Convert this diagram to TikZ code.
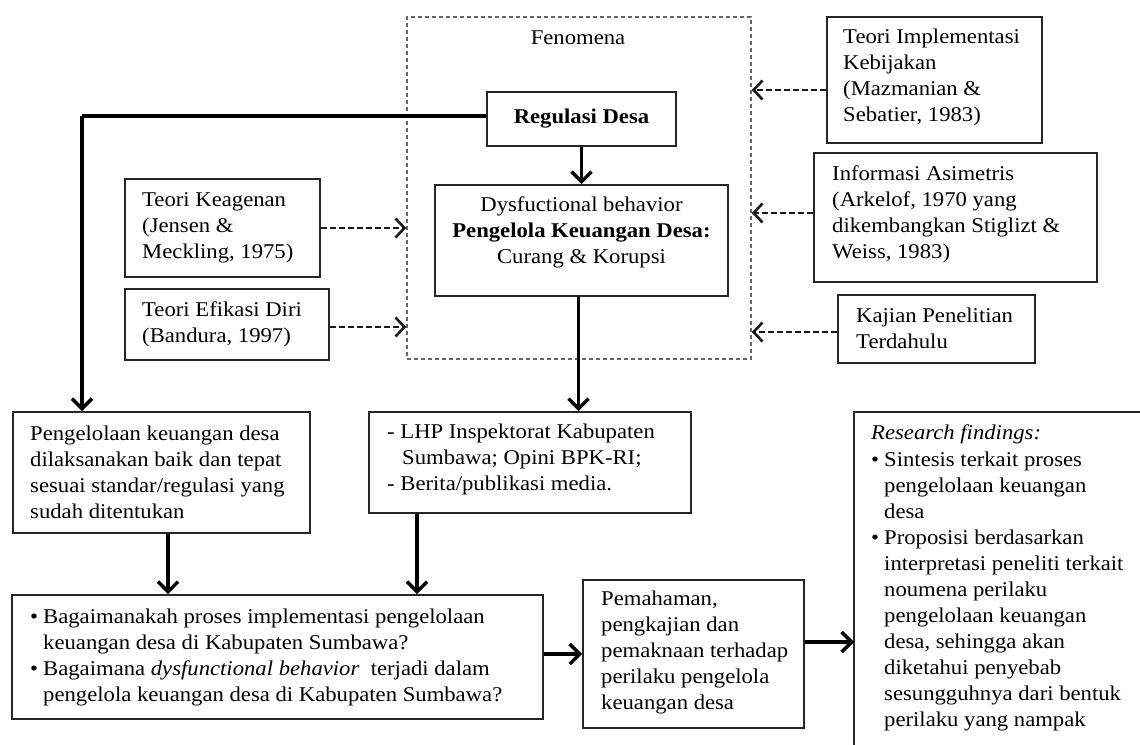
\documentclass[tikz,border=0pt]{standalone}
\usepackage{fontspec}
\setmainfont[FakeStretch=1.08]{Liberation Serif}
\usetikzlibrary{arrows.meta}
\begin{document}
\begin{tikzpicture}[x=1pt,y=-1pt,
  boxn/.style={draw=black!85, line width=1.9pt, inner sep=0pt},
  fenbox/.style={draw=black!60, line width=1.4pt, dash pattern=on 4pt off 3pt, inner sep=0pt},
  txt/.style={font=\fontsize{21}{26}\selectfont, align=left, inner sep=0pt, text=black},
  ctxt/.style={font=\fontsize{21}{26}\selectfont, align=center, inner sep=0pt, text=black},
  solidarr/.style={line width=3.4pt, draw=black, -{Straight Barb[length=10pt,width=20pt]}},
  plainline/.style={line width=3.4pt, draw=black},
  dasharr/.style={line width=2.6pt, draw=black!90, dash pattern=on 6pt off 3pt, -{Straight Barb[length=9pt,width=19pt]}}
]
\useasboundingbox (0,0) rectangle (1140,744);
\fill[white] (0,0) rectangle (1140,744);
\clip (0,0) rectangle (1140,744);

% Fenomena dashed box
\node[fenbox, minimum width=344pt, minimum height=342pt] (fen) at (579,188) {};
\node[ctxt] (fent) at (578,38) {Fenomena};

% Regulasi Desa
\node[boxn, ctxt, minimum width=189pt, minimum height=54pt] (reg) at (581.5,119) {\textbf{Regulasi Desa}};

% Dysfunctional
\node[boxn, minimum width=293pt, minimum height=111pt] (dys) at (581.5,240.5) {};
\node[ctxt] (dyst) at (581.5,232.5) {Dysfuctional behavior\\\textbf{Pengelola Keuangan Desa:}\\Curang \& Korupsi};

% Left theories
\node[boxn, minimum width=195pt, minimum height=98pt] (kea) at (222.5,228) {};
\node[txt, anchor=west] (keat) at (142,228) {Teori Keagenan\\(Jensen \&\\Meckling, 1975)};
\node[boxn, minimum width=204pt, minimum height=71pt] (efi) at (227,324.5) {};
\node[txt, anchor=west] (efit) at (142,324.5) {Teori Efikasi Diri\\(Bandura, 1997)};

% Right theories
\node[boxn, minimum width=215pt, minimum height=126pt] (imp) at (934.5,80) {};
\node[txt, anchor=west] (impt) at (843,77) {Teori Implementasi\\Kebijakan\\(Mazmanian \&\\Sebatier, 1983)};
\node[boxn, minimum width=283pt, minimum height=129pt] (inf) at (955.5,217.5) {};
\node[txt, anchor=west] (inft) at (832,214) {Informasi Asimetris\\(Arkelof, 1970 yang\\dikembangkan Stiglizt \&\\Weiss, 1983)};
\node[boxn, minimum width=197pt, minimum height=68pt] (kaj) at (936.5,329) {};
\node[txt, anchor=west] (kajt) at (856,328) {Kajian Penelitian\\Terdahulu};

% Middle row
\node[boxn, minimum width=297pt, minimum height=121pt] (pen) at (161.5,472.5) {};
\node[txt, anchor=west] (pent) at (30,472) {Pengelolaan keuangan desa\\dilaksanakan baik dan tepat\\sesuai standar/regulasi yang\\sudah ditentukan};
\node[boxn, minimum width=322pt, minimum height=101pt] (lhp) at (530,462.5) {};
\node[txt, anchor=west] (lhpt) at (387,459) {- LHP Inspektorat Kabupaten\\\hspace*{15pt}Sumbawa; Opini BPK-RI;\\- Berita/publikasi media.};

% Bottom row
\node[boxn, minimum width=531pt, minimum height=124pt] (bag) at (277.5,657) {};
\node[txt, anchor=west] (bagt) at (30,657) {\makebox[13pt][l]{•}Bagaimanakah proses implementasi pengelolaan\\\hspace*{13pt}keuangan desa di Kabupaten Sumbawa?\\\makebox[13pt][l]{•}Bagaimana \textit{dysfunctional behavior}\ \ terjadi dalam\\\hspace*{13pt}pengelola keuangan desa di Kabupaten Sumbawa?};
\node[boxn, minimum width=221pt, minimum height=148pt] (pem) at (693.5,654) {};
\node[txt, anchor=west] (pemt) at (601,652) {Pemahaman,\\pengkajian dan\\pemaknaan terhadap\\perilaku pengelola\\keuangan desa};

% Research findings (box runs off the page)
\coordinate (resL) at (854,412);
\draw[draw=black!85, line width=1.9pt] (854,790) -- (resL) -- (1160,412);
\node[txt, anchor=west] (res) at (871,578) {\textit{Research findings:}\\[1pt]
\makebox[13pt][l]{•}Sintesis terkait proses\\\hspace*{13pt}pengelolaan keuangan\\\hspace*{13pt}desa\\
\makebox[13pt][l]{•}Proposisi berdasarkan\\\hspace*{13pt}interpretasi peneliti terkait\\\hspace*{13pt}noumena perilaku\\\hspace*{13pt}pengelolaan keuangan\\\hspace*{13pt}desa, sehingga akan\\\hspace*{13pt}diketahui penyebab\\\hspace*{13pt}sesungguhnya dari bentuk\\\hspace*{13pt}perilaku yang nampak};

% Connectors
\coordinate (bend) at (82,116);
\draw[plainline] ([yshift=3pt]reg.west) -- (bend);
\draw[solidarr] (bend) -- (bend |- pen.north);
\draw[solidarr] (reg.south) -- (reg.south |- dys.north);
\draw[solidarr] ([xshift=-3pt]dys.south) -- ([xshift=-3pt]dys.south |- lhp.north);
\draw[dasharr] (kea.east) -- (kea.east -| fen.west);
\draw[dasharr] ([yshift=-2.5pt]efi.east) -- ([yshift=-2.5pt]efi.east -| fen.west);
\draw[dasharr] ([yshift=-10pt]imp.west) -- ([yshift=-10pt]imp.west -| fen.east);
\draw[dasharr] ([yshift=4.5pt]inf.west) -- ([yshift=4.5pt]inf.west -| fen.east);
\draw[dasharr] ([yshift=-3pt]kaj.west) -- ([yshift=-3pt]kaj.west -| fen.east);
\draw[solidarr] ([xshift=6.5pt]pen.south) -- ([xshift=6.5pt]pen.south |- bag.north);
\draw[solidarr] ([xshift=-113pt]lhp.south) -- ([xshift=-113pt]lhp.south |- bag.north);
\draw[solidarr] ([yshift=3pt]bag.east) -- ([yshift=3pt]bag.east -| pem.west);
\draw[solidarr] ([yshift=12pt]pem.east) -- ([yshift=12pt]pem.east -| resL);
\end{tikzpicture}
\end{document}
